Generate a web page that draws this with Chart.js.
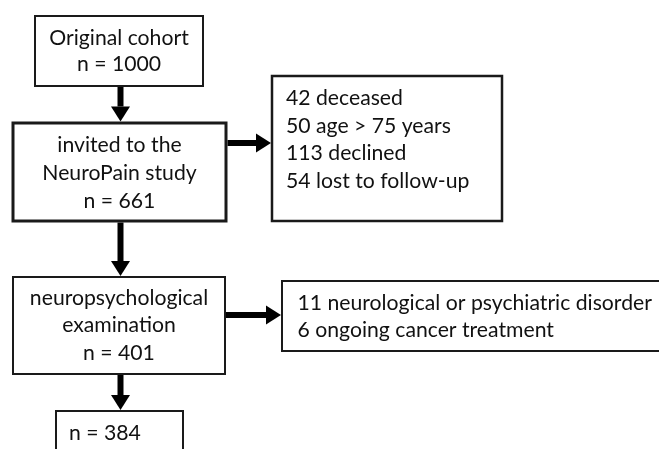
<!DOCTYPE html>
<html>
<head>
<meta charset="utf-8">
<script src="https://cdn.jsdelivr.net/npm/chart.js@4/dist/chart.umd.min.js"></script>
<style>
  html, body { margin: 0; padding: 0; background: #ffffff; }
  #wrap { width: 659px; height: 449px; }
</style>
</head>
<body>
<div id="wrap"><canvas id="c" width="659" height="449"></canvas></div>
<script>
// ---- data ----
const stageLabels = [["Original cohort"], ["invited to the", "NeuroPain study"], ["neuropsychological", "examination"], []];
const stageCounts = [1000, 661, 401, 384];
const exclusion1Counts = [42, 50, 113, 54];
const exclusion1Reasons = ["deceased", "age > 75 years", "declined", "lost to follow-up"];
const exclusion2Counts = [11, 6];
const exclusion2Reasons = ["neurological or psychiatric disorder", "ongoing cancer treatment"];

// ---- layout (scale units, canvas-like frame) ----
const stageBoxes = [
  { x0: 35, x1: 203, y0: 16, y1: 86, lw: 2, align: "center", firstLine: 22, lineGap: 26 },
  { x0: 13, x1: 226, y0: 123, y1: 221, lw: 3, align: "center", firstLine: 22, lineGap: 28 },
  { x0: 13, x1: 225, y0: 277, y1: 374, lw: 2, align: "center", firstLine: 21, lineGap: 27.5 },
  { x0: 56, x1: 183, y0: 411, y1: 470, lw: 2, align: "left", pad: 13, firstLine: 22, lineGap: 27 }
];
const exclusionBoxes = [
  { x0: 272, x1: 502, y0: 76, y1: 221, lw: 2.5, align: "left", pad: 14, firstLine: 22, lineGap: 27.7 },
  { x0: 282, x1: 680, y0: 281, y1: 351, lw: 2, align: "left", pad: 15.5, firstLine: 22, lineGap: 27 }
];
const spineX = 120.5;
const sideArrowY = [143, 315];

const FONT = '21.2px Lato, "Open Sans", sans-serif';
const TEXT_COLOR = "#111111";
const LINE_COLOR = "#1a1a1a";

function boxLines(i) {
  const lines = stageLabels[i].slice();
  lines.push("n = " + stageCounts[i]);
  return lines;
}

const flowPlugin = {
  id: "flow",
  afterDraw(chart) {
    const ctx = chart.ctx;
    const xs = chart.scales.x, ys = chart.scales.y;
    const X = v => xs.getPixelForValue(v);
    const Y = v => ys.getPixelForValue(v);

    function drawBox(b, lines) {
      ctx.save();
      ctx.strokeStyle = LINE_COLOR;
      ctx.lineWidth = b.lw;
      ctx.strokeRect(X(b.x0), Y(b.y0), X(b.x1) - X(b.x0), Y(b.y1) - Y(b.y0));
      ctx.fillStyle = TEXT_COLOR;
      ctx.font = FONT;
      ctx.textBaseline = "middle";
      lines.forEach((t, k) => {
        const yy = Y(b.y0 + b.firstLine + k * b.lineGap);
        if (b.align === "center") {
          ctx.textAlign = "center";
          ctx.fillText(t, X((b.x0 + b.x1) / 2), yy);
        } else {
          ctx.textAlign = "left";
          ctx.fillText(t, X(b.x0 + b.pad), yy);
        }
      });
      ctx.restore();
    }

    function arrow(xa, ya, xb, yb) {
      const px0 = X(xa), py0 = Y(ya), px1 = X(xb), py1 = Y(yb);
      const ang = Math.atan2(py1 - py0, px1 - px0);
      const headLen = 15, headHalf = 9.5;
      const bx = px1 - headLen * Math.cos(ang), by = py1 - headLen * Math.sin(ang);
      ctx.save();
      ctx.strokeStyle = "#000";
      ctx.fillStyle = "#000";
      ctx.lineWidth = 6;
      ctx.beginPath();
      ctx.moveTo(px0, py0);
      ctx.lineTo(bx, by);
      ctx.stroke();
      ctx.beginPath();
      ctx.moveTo(px1, py1);
      ctx.lineTo(bx - headHalf * Math.sin(ang), by + headHalf * Math.cos(ang));
      ctx.lineTo(bx + headHalf * Math.sin(ang), by - headHalf * Math.cos(ang));
      ctx.closePath();
      ctx.fill();
      ctx.restore();
    }

    // vertical arrows between stage boxes
    for (let i = 0; i < stageBoxes.length - 1; i++) {
      arrow(spineX, stageBoxes[i].y1 + stageBoxes[i].lw / 2, spineX, stageBoxes[i + 1].y0 - stageBoxes[i + 1].lw / 2);
    }
    // side arrows to exclusion boxes
    arrow(stageBoxes[1].x1 + 1.5, sideArrowY[0], exclusionBoxes[0].x0 - 1, sideArrowY[0]);
    arrow(stageBoxes[2].x1 + 1, sideArrowY[1], exclusionBoxes[1].x0 - 1, sideArrowY[1]);

    stageBoxes.forEach((b, i) => drawBox(b, boxLines(i)));
    drawBox(exclusionBoxes[0], exclusion1Counts.map((n, i) => n + " " + exclusion1Reasons[i]));
    drawBox(exclusionBoxes[1], exclusion2Counts.map((n, i) => n + " " + exclusion2Reasons[i]));
  }
};

new Chart(document.getElementById("c"), {
  type: "scatter",
  data: { datasets: [{ data: [], pointRadius: 0 }] },
  options: {
    responsive: false,
    animation: false,
    devicePixelRatio: 1,
    layout: { padding: 0 },
    plugins: { legend: { display: false }, tooltip: { enabled: false } },
    scales: {
      x: { type: "linear", min: 0, max: 659, display: false },
      y: { type: "linear", min: 0, max: 449, reverse: true, display: false }
    }
  },
  plugins: [flowPlugin]
});
</script>
</body>
</html>
